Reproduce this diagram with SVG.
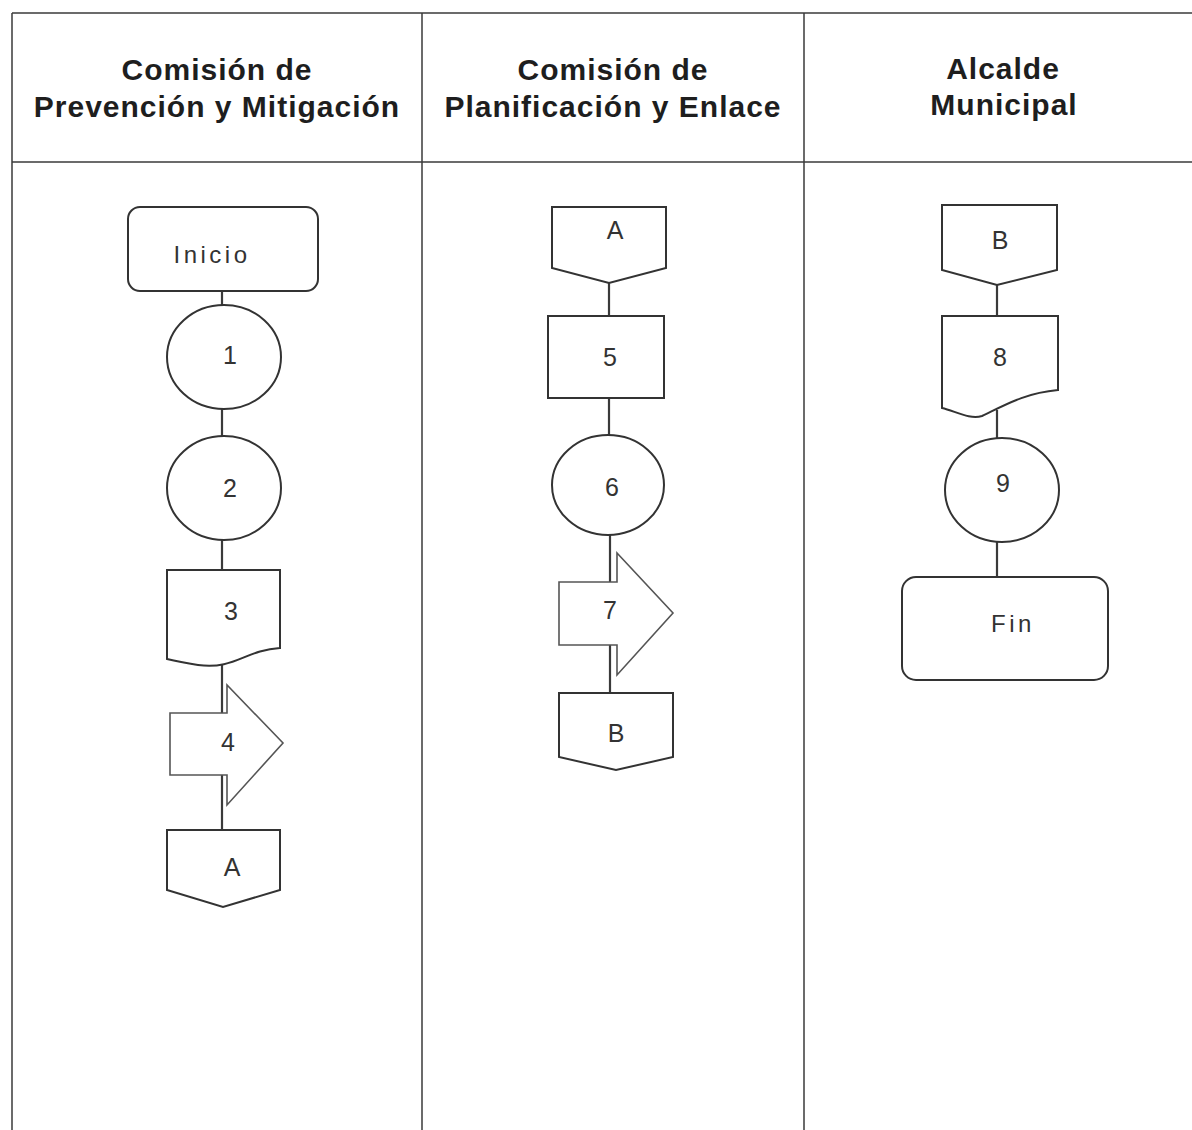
<svg xmlns="http://www.w3.org/2000/svg" width="1192" height="1130" viewBox="0 0 1192 1130">
<style>
.grid{stroke:#3a3a3a;stroke-width:1.5;fill:none}
.hdr{font-family:"Liberation Sans",Arial,sans-serif;font-weight:bold;font-size:30px;letter-spacing:1px;fill:#1e1e1e;text-anchor:middle}
.shape{fill:#fff;stroke:#333;stroke-width:2}
.arrow{fill:#fff;stroke:#555;stroke-width:1.6}
.conn{stroke:#3a3a3a;stroke-width:2.2;fill:none}
.lbl{font-family:"Liberation Sans",Arial,sans-serif;font-size:25px;fill:#333;text-anchor:middle}
.term{font-family:"Liberation Sans",Arial,sans-serif;font-size:24px;letter-spacing:3.5px;fill:#333;text-anchor:middle}
</style>
<rect width="1192" height="1130" fill="#fff"/>
<g id="table">
<line class="grid" x1="12" y1="13" x2="1192" y2="13"/>
<line class="grid" x1="12" y1="162" x2="1192" y2="162"/>
<line class="grid" x1="12" y1="13" x2="12" y2="1130"/>
<line class="grid" x1="422" y1="13" x2="422" y2="1130"/>
<line class="grid" x1="804" y1="13" x2="804" y2="1130"/>
<text class="hdr" x="217" y="80">Comisión de</text>
<text class="hdr" x="217" y="117">Prevención y Mitigación</text>
<text class="hdr" x="613" y="80">Comisión de</text>
<text class="hdr" x="613" y="117">Planificación y Enlace</text>
<text class="hdr" x="1003" y="79">Alcalde</text>
<text class="hdr" x="1004" y="115">Municipal</text>
</g>
<g id="connectors">
<line class="conn" x1="222" y1="290" x2="222" y2="306"/>
<line class="conn" x1="222" y1="409" x2="222" y2="437"/>
<line class="conn" x1="222" y1="539" x2="222" y2="571"/>
<line class="conn" x1="222" y1="662" x2="222" y2="831"/>
<line class="conn" x1="609" y1="283" x2="609" y2="317"/>
<line class="conn" x1="609" y1="397" x2="609" y2="436"/>
<line class="conn" x1="610" y1="534" x2="610" y2="694"/>
<line class="conn" x1="997" y1="285" x2="997" y2="317"/>
<line class="conn" x1="997" y1="410" x2="997" y2="438"/>
<line class="conn" x1="997" y1="541" x2="997" y2="578"/>
</g>
<g id="n-inicio">
<rect class="shape" x="128" y="207" width="190" height="84" rx="12"/>
<text class="term" x="212" y="263">Inicio</text>
</g>
<g id="n-1">
<ellipse class="shape" cx="224" cy="357" rx="57" ry="52"/>
<text class="lbl" x="230" y="364">1</text>
</g>
<g id="n-2">
<ellipse class="shape" cx="224" cy="488" rx="57" ry="52"/>
<text class="lbl" x="230" y="497">2</text>
</g>
<g id="n-3">
<path class="shape" d="M167,570 H280 V648 C245,650 235,670 198,665 C185,663 175,661 167,659 Z"/>
<text class="lbl" x="231" y="620">3</text>
</g>
<g id="n-4">
<path class="arrow" d="M170,713 H227 V685 L283,743 L227,805 V775 H170 Z"/>
<text class="lbl" x="228" y="751">4</text>
</g>
<g id="n-A1">
<path class="shape" d="M167,830 H280 V890 L223,907 L167,890 Z"/>
<text class="lbl" x="232" y="876">A</text>
</g>
<g id="n-A2">
<path class="shape" d="M552,207 H666 V268 L609,283 L552,268 Z"/>
<text class="lbl" x="615" y="239">A</text>
</g>
<g id="n-5">
<rect class="shape" x="548" y="316" width="116" height="82"/>
<text class="lbl" x="610" y="366">5</text>
</g>
<g id="n-6">
<ellipse class="shape" cx="608" cy="485" rx="56" ry="50"/>
<text class="lbl" x="612" y="496">6</text>
</g>
<g id="n-7">
<path class="arrow" d="M559,582 H617 V553 L673,613 L617,675 V645 H559 Z"/>
<text class="lbl" x="610" y="619">7</text>
</g>
<g id="n-B1">
<path class="shape" d="M559,693 H673 V757 L616,770 L559,757 Z"/>
<text class="lbl" x="616" y="742">B</text>
</g>
<g id="n-B2">
<path class="shape" d="M942,205 H1057 V270 L997,285 L942,270 Z"/>
<text class="lbl" x="1000" y="249">B</text>
</g>
<g id="n-8">
<path class="shape" d="M942,316 H1058 V390 C1025,393 1005,405 982,416 C970,420 955,411 942,408 Z"/>
<text class="lbl" x="1000" y="366">8</text>
</g>
<g id="n-9">
<ellipse class="shape" cx="1002" cy="490" rx="57" ry="52"/>
<text class="lbl" x="1003" y="492">9</text>
</g>
<g id="n-fin">
<rect class="shape" x="902" y="577" width="206" height="103" rx="14"/>
<text class="term" x="1013" y="632">Fin</text>
</g>
</svg>
